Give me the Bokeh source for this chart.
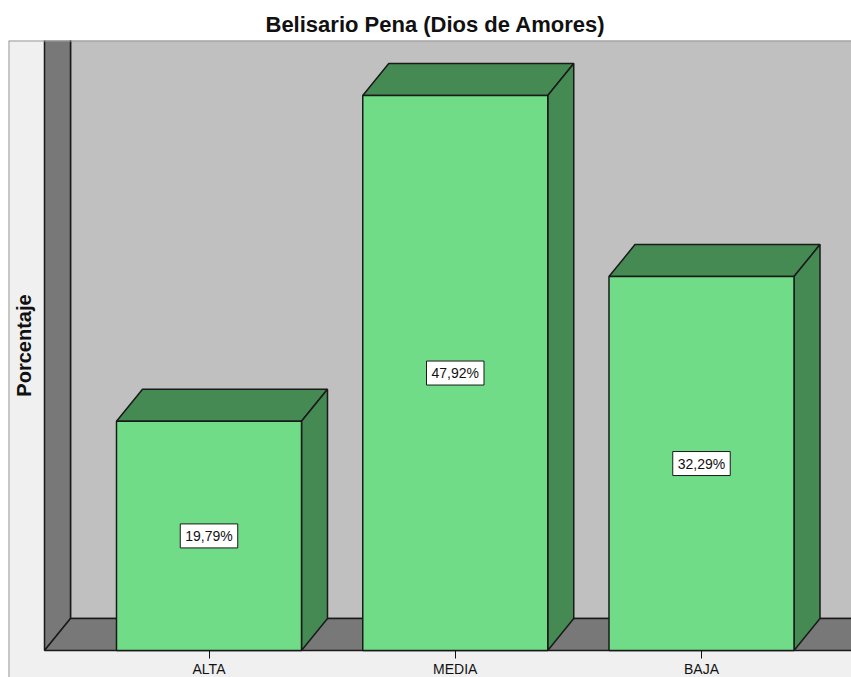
from bokeh.plotting import figure
from bokeh.models import Range1d, FixedTicker
from bokeh.core.properties import value
from bokeh.embed import file_html
from bokeh.resources import INLINE

# ---- data ----
categories = ["ALTA", "MEDIA", "BAJA"]
percentages = [19.79, 47.92, 32.29]
value_labels = ["19,79%", "47,92%", "32,29%"]
title_text = "Belisario Pena (Dios de Amores)"
y_label = "Porcentaje"

# ---- layout / style constants ----
W, H = 851, 677
LEFT = 8
TOP = 40
FW = W - LEFT          # frame width
FH = H - TOP           # frame height
PX_X = 246.25          # px per category slot
PX_Y = 11.58           # px per percent
FIRST_CENTER = 200.5   # px from frame left to first category center
ZERO_FROM_TOP = 610    # px from frame top to the zero line
x_start = -FIRST_CENTER / PX_X
x_end = x_start + FW / PX_X
y_top = ZERO_FROM_TOP / PX_Y
y_bot = -(FH - ZERO_FROM_TOP) / PX_Y
bar_w = 185 / PX_X
dx = 26 / PX_X
dy = 32 / PX_Y
wall_x = x_start + 36 / PX_X

FRONT = "#70DC88"
SHADE = "#448A52"
WALL = "#C0C0C0"
FLOOR = "#787878"
BG = "#F0F0F0"
EDGE = "#1a1a1a"
FONT = value("Liberation Sans")

p = figure(width=W, height=H, output_backend="svg", toolbar_location=None,
           x_range=Range1d(x_start, x_end), y_range=Range1d(y_bot, y_top),
           min_border_left=LEFT, min_border_right=0, min_border_bottom=0,
           min_border_top=TOP)
p.background_fill_color = BG
p.border_fill_color = "white"
p.outline_line_color = None
p.grid.visible = False

# title
p.title.text = title_text
p.title.text_font = "Liberation Sans"
p.title.text_font_size = "22px"
p.title.text_font_style = "bold"
p.title.text_color = "#111111"
p.title.align = "left"
p.title.offset = 257
p.title.standoff = 8

big = 10
# back wall
p.patch([wall_x + dx, x_end + big, x_end + big, wall_x + dx],
        [dy, dy, y_top + big, y_top + big],
        fill_color=WALL, line_color=EDGE, line_width=1.5)
# side wall
p.patch([wall_x, wall_x + dx, wall_x + dx, wall_x],
        [0, dy, y_top + big, y_top + big],
        fill_color=FLOOR, line_color=EDGE, line_width=1.5)
# floor
p.patch([wall_x, x_end + big, x_end + big, wall_x + dx],
        [0, 0, dy, dy],
        fill_color=FLOOR, line_color=EDGE, line_width=1.5)

# bars (front, top, side)
xs_front, ys_front, xs_shade, ys_shade = [], [], [], []
for i, v in enumerate(percentages):
    l, r = i - bar_w / 2, i + bar_w / 2
    xs_front.append([l, r, r, l]); ys_front.append([0, 0, v, v])
    xs_shade.append([l, r, r + dx, l + dx]); ys_shade.append([v, v, v + dy, v + dy])
    xs_shade.append([r, r + dx, r + dx, r]); ys_shade.append([0, dy, v + dy, v])
p.patches(xs_shade, ys_shade, fill_color=SHADE, line_color=EDGE, line_width=1.5)
p.patches(xs_front, ys_front, fill_color=FRONT, line_color=EDGE, line_width=1.5)

# value labels
p.text(x=list(range(len(categories))), y=[v / 2 for v in percentages], text=value_labels,
       text_align="center", text_baseline="middle", text_font=FONT,
       text_font_size="14px", text_color="#111111",
       background_fill_color="white", border_line_color=EDGE, border_line_width=1,
       padding=[5, 4])

# outer frame border (top and left)
p.segment(x0=[x_start, x_start], y0=[y_top, y_bot], x1=[x_end, x_start], y1=[y_top, y_top],
          line_color="#9a9a9a", line_width=2)

# x axis
xa = p.xaxis[0]
xa.fixed_location = 0
xa.ticker = FixedTicker(ticks=list(range(len(categories))))
xa.major_label_overrides = {i: c for i, c in enumerate(categories)}
xa.axis_line_color = None
xa.major_tick_in = 0
xa.major_tick_out = 8
xa.major_tick_line_color = "#111111"
xa.minor_tick_line_color = None
xa.major_label_standoff = 2
xa.major_label_text_font = "Liberation Sans"
xa.major_label_text_font_size = "14px"
xa.major_label_text_color = "#111111"

# y axis (label only)
ya = p.yaxis[0]
ya.fixed_location = wall_x
ya.ticker = FixedTicker(ticks=[])
ya.bounds = (0, y_top)
ya.axis_line_color = None
ya.major_tick_line_color = None
ya.minor_tick_line_color = None
ya.major_label_text_font_size = "0px"
ya.axis_label = y_label
ya.axis_label_text_font = "Liberation Sans"
ya.axis_label_text_font_size = "20px"
ya.axis_label_text_font_style = "bold"
ya.axis_label_text_color = "#111111"
ya.axis_label_standoff = 10

open("out.html", "w").write(file_html(p, INLINE))
